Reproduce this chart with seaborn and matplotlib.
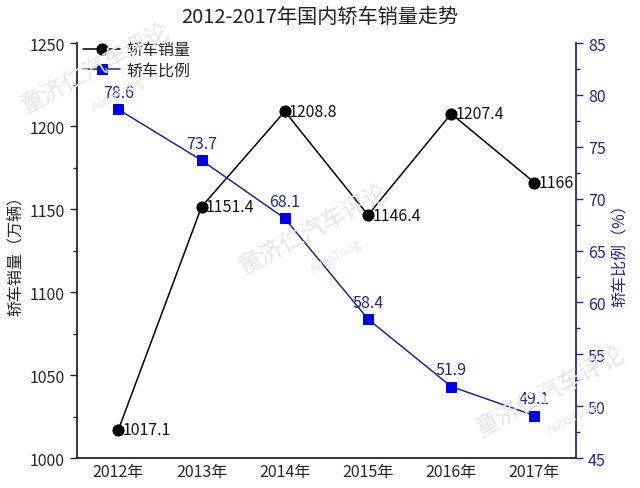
import matplotlib
matplotlib.use("Agg")
import matplotlib.pyplot as plt
import seaborn as sns
import pandas as pd
from matplotlib.ticker import MultipleLocator

years = ["2012年", "2013年", "2014年", "2015年", "2016年", "2017年"]
sales = [1017.1, 1151.4, 1208.8, 1146.4, 1207.4, 1166]
sales_labels = ["1017.1", "1151.4", "1208.8", "1146.4", "1207.4", "1166"]
ratio = [78.6, 73.7, 68.1, 58.4, 51.9, 49.1]

sns.set_style("ticks")
plt.rcParams['font.family'] = ['Noto Sans CJK SC', 'DejaVu Sans']

navy = "#25258f"
blue = "#0000ee"

df = pd.DataFrame({"year": years, "x": range(len(years)), "sales": sales, "ratio": ratio})

fig = plt.figure(figsize=(6.4, 4.89), dpi=100)

# watermarks (behind everything)
for (wx, wy) in [(0.15, 0.86), (0.49, 0.53), (0.86, 0.20)]:
    fig.text(wx, wy, "童济仁汽车评论", rotation=28, fontsize=17, color="#e6e6e6",
             ha="center", va="center", zorder=0)
    fig.text(wx + 0.035, wy - 0.055, "AutoTong", rotation=28, fontsize=9, color="#e6e6e6",
             ha="center", va="center", zorder=0)

ax = fig.add_axes([0.120, 0.061, 0.780, 0.849])
ax.patch.set_alpha(0)
ax2 = ax.twinx()
ax2.patch.set_alpha(0)

sns.lineplot(data=df, x="x", y="sales", ax=ax, color="black", marker="o", markersize=8,
             markeredgecolor="black", linewidth=1.1, label="轿车销量", legend=False)
sns.lineplot(data=df, x="x", y="ratio", ax=ax2, color=navy, marker="s", markersize=7,
             markerfacecolor=blue, markeredgecolor=blue, linewidth=1.1, label="轿车比例", legend=False)

for xi, v, t in zip(df["x"], sales, sales_labels):
    ax.annotate(t, (xi, v), xytext=(3, 0), textcoords="offset points", ha="left", va="center",
                fontsize=11.5, color="#111111")
for xi, v in zip(df["x"], ratio):
    ax2.annotate(f"{v}", (xi, v), xytext=(0, 6), textcoords="offset points", ha="center", va="bottom",
                 fontsize=11.5, color=navy)

ax.set_xlim(-0.5, 5.5)
ax.set_ylim(1000, 1250)
ax2.set_ylim(45, 85)
ax.set_xticks(range(len(years)))
ax.set_xticklabels(years, fontsize=11.5)
ax.yaxis.set_major_locator(MultipleLocator(50))
ax.yaxis.set_minor_locator(MultipleLocator(25))
ax2.yaxis.set_major_locator(MultipleLocator(5))
ax2.yaxis.set_minor_locator(MultipleLocator(2.5))
ax.tick_params(axis="y", labelsize=11.5, direction="out", length=5, width=1)
ax.tick_params(axis="y", which="minor", direction="out", length=3, width=1)
ax.tick_params(axis="x", direction="out", length=0)
ax2.tick_params(axis="y", labelsize=11.5, colors=navy, direction="out", length=5, width=1)
ax2.tick_params(axis="y", which="minor", colors=navy, direction="out", length=3, width=1)

ax.set_xlabel("")
ax.set_ylabel("轿车销量（万辆）", fontsize=11.5)
ax2.set_ylabel("轿车比例（%）", fontsize=11.5, color=navy, rotation=90)

for a in (ax, ax2):
    a.spines["top"].set_visible(False)
ax.spines["right"].set_visible(False)
ax2.spines["left"].set_visible(False)
ax2.spines["bottom"].set_visible(False)
ax2.spines["right"].set_color(navy)
ax2.spines["right"].set_linewidth(1.3)
ax.spines["left"].set_linewidth(1.3)
ax.spines["bottom"].set_linewidth(1.3)

h1, l1 = ax.get_legend_handles_labels()
h2, l2 = ax2.get_legend_handles_labels()
ax2.legend(h1 + h2, l1 + l2, loc="upper left", frameon=False, fontsize=11.5,
           bbox_to_anchor=(0.0, 1.02), handlelength=2.3, handletextpad=0.4,
           borderaxespad=0.1, borderpad=0.3, labelspacing=0.25)

fig.suptitle("2012-2017年国内轿车销量走势", y=0.985, fontsize=14.5, color="#222222")

fig.savefig("out.png", dpi=100)
